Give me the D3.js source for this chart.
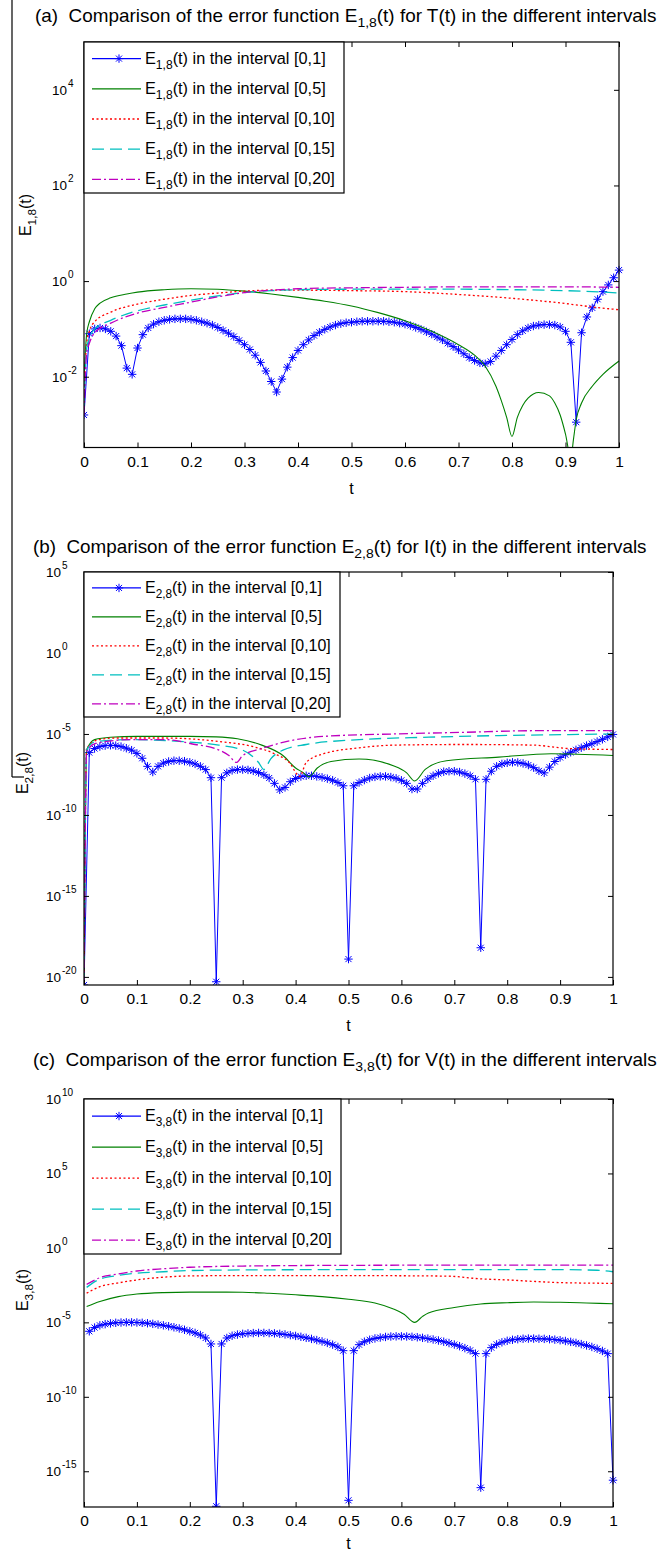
<!DOCTYPE html>
<html>
<head>
<meta charset="utf-8">
<title>Error function comparison</title>
<script src="https://d3js.org/d3.v7.min.js"></script>
<style>
  body { margin: 0; background: #fff; }
  text { font-family: "Liberation Sans", Arial, sans-serif; fill: #000; }
</style>
</head>
<body>
<div id="chart"></div>
<script>
// ---- data (log10 of the error) ----
var tGrid = [0,0.01,0.02,0.03,0.04,0.05,0.06,0.07,0.08,0.09,
  0.1,0.11,0.12,0.13,0.14,0.15,0.16,0.17,0.18,0.19,
  0.2,0.21,0.22,0.23,0.24,0.25,0.26,0.27,0.28,0.29,
  0.3,0.31,0.32,0.33,0.34,0.35,0.36,0.37,0.38,0.39,
  0.4,0.41,0.42,0.43,0.44,0.45,0.46,0.47,0.48,0.49,
  0.5,0.51,0.52,0.53,0.54,0.55,0.56,0.57,0.58,0.59,
  0.6,0.61,0.62,0.63,0.64,0.65,0.66,0.67,0.68,0.69,
  0.7,0.71,0.72,0.73,0.74,0.75,0.76,0.77,0.78,0.79,
  0.8,0.81,0.82,0.83,0.84,0.85,0.86,0.87,0.88,0.89,
  0.9,0.91,0.92,0.93,0.94,0.95,0.96,0.97,0.98,0.99,1];
var xTicks = [0,0.1,0.2,0.3,0.4,0.5,0.6,0.7,0.8,0.9,1];
var intervals = ['[0,1]','[0,5]','[0,10]','[0,15]','[0,20]'];

// panel (a) E_1,8 for T(t)
var aBlue = [-2.8,-1.1,-1.0,-0.98,-1.0,-1.05,-1.15,-1.35,-1.82,-1.95,
  -1.4,-1.12,-0.98,-0.9,-0.85,-0.82,-0.8,-0.79,-0.79,-0.79,
  -0.8,-0.82,-0.85,-0.88,-0.92,-0.97,-1.03,-1.09,-1.16,-1.24,
  -1.33,-1.43,-1.55,-1.7,-1.88,-2.1,-2.32,-2.05,-1.8,-1.6,
  -1.45,-1.33,-1.23,-1.14,-1.07,-1.01,-0.96,-0.92,-0.89,-0.87,
  -0.86,-0.85,-0.84,-0.84,-0.84,-0.84,-0.84,-0.85,-0.86,-0.88,
  -0.9,-0.93,-0.97,-1.01,-1.06,-1.11,-1.17,-1.23,-1.3,-1.37,
  -1.44,-1.52,-1.6,-1.66,-1.71,-1.73,-1.68,-1.57,-1.45,-1.33,
  -1.22,-1.12,-1.04,-0.98,-0.94,-0.92,-0.91,-0.91,-0.92,-0.96,
  -1.05,-1.28,-2.95,-1.08,-0.75,-0.56,-0.38,-0.22,-0.08,0.07,0.23];
var aGreen = [[0,-2.0],[0.005,-1.1],[0.01,-0.85],[0.02,-0.58],[0.03,-0.46],[0.05,-0.35],[0.08,-0.27],
  [0.1,-0.23],[0.15,-0.18],[0.2,-0.16],[0.25,-0.17],[0.3,-0.21],[0.35,-0.27],[0.4,-0.34],[0.45,-0.42],
  [0.5,-0.52],[0.55,-0.66],[0.6,-0.83],[0.65,-1.05],[0.7,-1.33],[0.73,-1.55],[0.75,-1.78],[0.77,-2.2],
  [0.78,-2.5],[0.79,-2.85],[0.8,-3.25],[0.81,-2.85],[0.82,-2.6],[0.83,-2.45],[0.85,-2.33],[0.87,-2.4],
  [0.88,-2.55],[0.89,-2.8],[0.9,-3.2],[0.91,-3.7],[0.915,-3.3],[0.92,-2.9],[0.93,-2.55],[0.95,-2.2],
  [0.97,-1.95],[1.0,-1.67]];
var aRed = [[0,-2.3],[0.005,-1.3],[0.01,-1.05],[0.02,-0.85],[0.05,-0.65],[0.1,-0.48],[0.15,-0.38],
  [0.2,-0.3],[0.25,-0.25],[0.3,-0.21],[0.35,-0.19],[0.4,-0.19],[0.5,-0.2],[0.6,-0.22],[0.7,-0.28],
  [0.8,-0.36],[0.9,-0.47],[0.95,-0.54],[1.0,-0.6]];
var aCyan = [[0,-2.6],[0.005,-1.4],[0.01,-1.2],[0.02,-1.0],[0.05,-0.82],[0.1,-0.62],[0.15,-0.5],
  [0.2,-0.4],[0.25,-0.31],[0.3,-0.24],[0.35,-0.2],[0.4,-0.18],[0.5,-0.17],[0.6,-0.17],[0.7,-0.17],
  [0.8,-0.18],[0.9,-0.2],[0.95,-0.22],[1.0,-0.25]];
var aMagenta = [[0,-2.8],[0.005,-1.5],[0.01,-1.3],[0.02,-1.08],[0.05,-0.88],[0.1,-0.67],[0.15,-0.55],
  [0.2,-0.44],[0.25,-0.33],[0.3,-0.24],[0.35,-0.19],[0.4,-0.16],[0.5,-0.14],[0.6,-0.13],[0.7,-0.12],
  [0.8,-0.12],[0.9,-0.12],[1.0,-0.13]];

// panel (b) E_2,8 for I(t)
var bBlue = [-20.5,-6.15,-5.9,-5.78,-5.72,-5.7,-5.72,-5.78,-5.88,-6.0,
  -6.2,-6.5,-7.0,-7.35,-7.0,-6.8,-6.7,-6.65,-6.65,-6.68,
  -6.75,-6.85,-7.0,-7.2,-7.7,-20.3,-7.7,-7.4,-7.25,-7.2,
  -7.2,-7.22,-7.28,-7.38,-7.52,-7.72,-8.05,-8.45,-8.3,-7.95,
  -7.75,-7.63,-7.58,-7.58,-7.62,-7.68,-7.76,-7.86,-8.0,-8.2,
  -18.9,-8.2,-8.0,-7.85,-7.72,-7.65,-7.62,-7.62,-7.66,-7.74,
  -7.86,-8.05,-8.4,-8.4,-8.05,-7.78,-7.58,-7.43,-7.33,-7.3,
  -7.3,-7.35,-7.45,-7.58,-7.8,-18.2,-7.8,-7.3,-7.0,-6.85,
  -6.78,-6.75,-6.76,-6.82,-6.92,-7.08,-7.28,-7.4,-7.05,-6.7,
  -6.45,-6.28,-6.13,-5.98,-5.85,-5.72,-5.6,-5.47,-5.33,-5.18,-5.03];
var bGreen = [[0,-20.5],[0.005,-6.0],[0.02,-5.35],[0.05,-5.2],[0.1,-5.15],[0.2,-5.15],[0.25,-5.18],
  [0.29,-5.3],[0.336,-5.69],[0.376,-6.33],[0.4,-7.1],[0.415,-7.4],[0.425,-7.65],[0.441,-7.1],
  [0.467,-6.7],[0.52,-6.55],[0.586,-6.98],[0.61,-7.4],[0.625,-7.9],[0.645,-7.19],[0.685,-6.65],
  [0.784,-6.43],[0.883,-6.22],[1.0,-6.33]];
var bRed = [[0,-20.5],[0.005,-5.9],[0.028,-5.35],[0.06,-5.25],[0.15,-5.25],[0.2,-5.3],[0.255,-5.47],
  [0.322,-5.8],[0.36,-6.22],[0.388,-6.76],[0.408,-7.62],[0.42,-6.76],[0.453,-6.22],[0.52,-5.86],
  [0.586,-5.69],[0.718,-5.65],[0.85,-5.69],[0.916,-5.9],[1.0,-5.96]];
var bCyan = [[0,-20.5],[0.005,-6.0],[0.022,-5.47],[0.088,-5.35],[0.188,-5.47],[0.255,-5.69],[0.3,-6.0],
  [0.33,-6.76],[0.34,-7.19],[0.353,-6.54],[0.376,-6.0],[0.42,-5.65],[0.52,-5.35],[0.652,-5.2],
  [0.784,-5.1],[0.916,-5.04],[1.0,-5.0]];
var bMagenta = [[0,-20.5],[0.005,-6.1],[0.022,-5.58],[0.088,-5.35],[0.155,-5.35],[0.21,-5.65],
  [0.248,-5.9],[0.274,-6.33],[0.288,-6.76],[0.3,-6.33],[0.336,-5.9],[0.388,-5.43],[0.453,-5.15],
  [0.586,-5.0],[0.718,-4.9],[0.85,-4.8],[1.0,-4.8]];

// panel (c) E_3,8 for V(t)  (blue starts at t = 0.01)
var cBlue = [-5.6,-5.35,-5.2,-5.12,-5.07,-5.03,-5.01,-5.0,-5.0,-5.01,
  -5.03,-5.06,-5.1,-5.15,-5.2,-5.26,-5.33,-5.41,-5.5,-5.6,
  -5.71,-5.85,-6.05,-6.45,-17.35,-6.45,-6.05,-5.9,-5.82,-5.77,
  -5.74,-5.72,-5.71,-5.71,-5.72,-5.74,-5.77,-5.81,-5.86,-5.91,
  -5.97,-6.04,-6.11,-6.19,-6.28,-6.38,-6.5,-6.65,-6.9,-16.95,
  -6.9,-6.5,-6.3,-6.17,-6.08,-6.02,-5.98,-5.95,-5.94,-5.94,
  -5.95,-5.97,-6.0,-6.04,-6.09,-6.15,-6.22,-6.3,-6.39,-6.49,
  -6.6,-6.73,-6.88,-7.1,-16.1,-7.1,-6.7,-6.48,-6.34,-6.24,
  -6.17,-6.13,-6.1,-6.09,-6.09,-6.1,-6.11,-6.13,-6.16,-6.2,
  -6.25,-6.31,-6.38,-6.46,-6.55,-6.65,-6.77,-6.92,-7.1,-15.6];
var cGreen = [[0.005,-3.94],[0.03,-3.6],[0.065,-3.27],[0.1,-3.1],[0.15,-3.0],[0.2,-2.97],[0.25,-2.97],
  [0.3,-2.98],[0.35,-3.05],[0.4,-3.15],[0.45,-3.27],[0.5,-3.45],[0.55,-3.7],[0.585,-4.1],[0.605,-4.45],
  [0.625,-5.0],[0.64,-4.6],[0.651,-4.37],[0.7,-4.0],[0.75,-3.77],[0.8,-3.68],[0.85,-3.63],[0.9,-3.65],
  [0.95,-3.7],[1.0,-3.75]];
var cRed = [[0.005,-3.04],[0.03,-2.6],[0.065,-2.35],[0.1,-2.15],[0.157,-1.95],[0.2,-1.88],[0.3,-1.86],
  [0.5,-1.86],[0.6,-1.87],[0.69,-1.9],[0.75,-2.08],[0.8,-2.15],[0.85,-2.25],[0.9,-2.33],[1.0,-2.38]];
var cCyan = [[0.005,-2.65],[0.03,-2.1],[0.065,-1.85],[0.1,-1.7],[0.15,-1.6],[0.2,-1.52],[0.3,-1.48],
  [0.5,-1.46],[0.7,-1.46],[0.9,-1.46],[0.97,-1.5],[1.0,-1.6]];
var cMagenta = [[0.005,-2.45],[0.03,-2.0],[0.065,-1.75],[0.1,-1.55],[0.15,-1.4],[0.2,-1.3],[0.3,-1.22],
  [0.5,-1.17],[0.7,-1.16],[1.0,-1.16]];

// ---- styles ----
var colors = ['#0000ff', '#008000', '#ff0000', '#00bfbf', '#bf00bf'];
var dashes = [null, null, '2,2.5', '12,6', '9,3,2,3'];
var widths = [1, 1.1, 1.3, 1.3, 1.3];

// ---- layout of the three panels ----
var panels = [
  { id: 'a', sub: '1,8', fn: 'T(t)', left: 84, right: 619, top: 42, bottom: 447.5, ymin: -3.48, ymax: 5,
    yTicks: [-2, 0, 2, 4], baseX: 67, titleY: 22, titleX: 35, titleW: 622, legR: 344, legB: 193,
    ylab: [25, 215], tY: 494,
    blue: tGrid.map(function (t, i) { return [t, aBlue[i]]; }), others: [aGreen, aRed, aCyan, aMagenta] },
  { id: 'b', sub: '2,8', fn: 'I(t)', left: 84, right: 613, top: 572, bottom: 985, ymin: -20.5, ymax: 5,
    yTicks: [-20, -15, -10, -5, 0, 5], baseX: 61, titleY: 553, titleX: 33, titleW: 614, legR: 340, legB: 717,
    ylab: [22, 773], tY: 1031,
    blue: tGrid.map(function (t, i) { return [t, bBlue[i]]; }), others: [bGreen, bRed, bCyan, bMagenta] },
  { id: 'c', sub: '3,8', fn: 'V(t)', left: 84, right: 613, top: 1099, bottom: 1507, ymin: -17.4, ymax: 10,
    yTicks: [-15, -10, -5, 0, 5, 10], baseX: 61, titleY: 1066, titleX: 33, titleW: 624, legR: 341, legB: 1254,
    ylab: [22, 1290], tY: 1549,
    blue: tGrid.slice(1).map(function (t, i) { return [t, cBlue[i]]; }), others: [cGreen, cRed, cCyan, cMagenta] }
];

var svg = d3.select('#chart').append('svg')
  .attr('width', 662).attr('height', 1556)
  .style('display', 'block');
svg.append('rect').attr('width', 662).attr('height', 1556).attr('fill', '#fff');

// stray border lines of the scanned figure
svg.append('line').attr('x1', 12).attr('x2', 12).attr('y1', 0).attr('y2', 777)
  .attr('stroke', '#000').attr('stroke-width', 1.2);
svg.append('line').attr('x1', 12).attr('x2', 24).attr('y1', 777).attr('y2', 777)
  .attr('stroke', '#000').attr('stroke-width', 1.2);

function starPath(r) {
  var d = r * 0.72;
  return 'M0,' + (-r) + 'L0,' + r + 'M' + (-r) + ',0L' + r + ',0' +
    'M' + (-d) + ',' + (-d) + 'L' + d + ',' + d + 'M' + (-d) + ',' + d + 'L' + d + ',' + (-d);
}

// text with E_{sub} pieces
function subText(sel, pre, sub, post, size) {
  sel.append('tspan').text(pre);
  sel.append('tspan').attr('dy', size * 0.3).attr('font-size', size * 0.74).text(sub);
  sel.append('tspan').attr('dy', -size * 0.3).text(post);
}

// squeeze a text horizontally about its x so that it is w wide
function fitWidth(sel, x0, w) {
  var cur = sel.node().getComputedTextLength();
  sel.attr('transform', 'translate(' + x0 + ',0) scale(' + (w / cur) + ',1) translate(' + (-x0) + ',0)');
}

panels.forEach(function (p) {
  var g = svg.append('g');
  var x = d3.scaleLinear().domain([0, 1]).range([p.left, p.right]);
  var y = d3.scaleLog().domain([Math.pow(10, p.ymin), Math.pow(10, p.ymax)]).range([p.bottom, p.top]);

  var clipId = 'clip-' + p.id;
  g.append('clipPath').attr('id', clipId).append('rect')
    .attr('x', p.left).attr('y', p.top - 4).attr('width', p.right - p.left + 6).attr('height', p.bottom - p.top + 4);

  // title
  var title = g.append('text').attr('x', p.titleX).attr('y', p.titleY)
    .attr('font-size', 17.5).style('white-space', 'pre');
  subText(title, '(' + p.id + ')  Comparison of the error function E', p.sub,
    '(t) for ' + p.fn + ' in the different intervals', 17.5);
  fitWidth(title, p.titleX, p.titleW);

  var line = d3.line()
    .x(function (d) { return x(d[0]); })
    .y(function (d) { return y(Math.pow(10, d[1])); });

  var plot = g.append('g').attr('clip-path', 'url(#' + clipId + ')');

  // blue with star markers
  plot.append('path').datum(p.blue)
    .attr('d', line.curve(d3.curveLinear))
    .attr('fill', 'none').attr('stroke', colors[0]).attr('stroke-width', widths[0]);
  plot.selectAll('.star').data(p.blue).enter().append('path')
    .attr('transform', function (d) { return 'translate(' + x(d[0]) + ',' + y(Math.pow(10, d[1])) + ')'; })
    .attr('d', starPath(4.2))
    .attr('fill', 'none').attr('stroke', colors[0]).attr('stroke-width', 1);

  p.others.forEach(function (s, k) {
    plot.append('path').datum(s)
      .attr('d', line.curve(d3.curveMonotoneX))
      .attr('fill', 'none').attr('stroke', colors[k + 1]).attr('stroke-width', widths[k + 1])
      .attr('stroke-dasharray', dashes[k + 1]);
  });

  // axes: ticks inside on all four sides
  var yVals = p.yTicks.map(function (e) { return Math.pow(10, e); });
  var bottomAxis = g.append('g').attr('transform', 'translate(0,' + p.bottom + ')')
    .call(d3.axisBottom(x).tickValues(xTicks).tickFormat(d3.format('~g')).tickSize(-5).tickPadding(8));
  g.append('g').attr('transform', 'translate(0,' + p.top + ')')
    .call(d3.axisTop(x).tickValues(xTicks).tickFormat('').tickSize(-5));
  g.append('g').attr('transform', 'translate(' + p.left + ',0)')
    .call(d3.axisLeft(y).tickValues(yVals).tickFormat('').tickSize(-5));
  g.append('g').attr('transform', 'translate(' + p.right + ',0)')
    .call(d3.axisRight(y).tickValues(yVals).tickFormat('').tickSize(-5));
  g.selectAll('.domain').remove();
  g.selectAll('.tick line').attr('stroke', '#000').attr('stroke-width', 1);
  bottomAxis.selectAll('text').attr('font-size', 15.5).attr('font-family', '"Liberation Sans", Arial, sans-serif');

  g.append('rect').attr('x', p.left).attr('y', p.top)
    .attr('width', p.right - p.left).attr('height', p.bottom - p.top)
    .attr('fill', 'none').attr('stroke', '#000').attr('stroke-width', 1.2);

  // log tick labels 10^k
  p.yTicks.forEach(function (e) {
    var yy = y(Math.pow(10, e));
    g.append('text').attr('x', p.baseX).attr('y', yy + 5)
      .attr('text-anchor', 'end').attr('font-size', 13.5).text('10');
    g.append('text').attr('x', p.baseX + 1).attr('y', yy - 3)
      .attr('font-size', 10).text(String(e));
  });

  // axis titles
  g.append('text').attr('x', (p.left + p.right) / 2).attr('y', p.tY)
    .attr('text-anchor', 'middle').attr('font-size', 16).text('t');
  var yl = g.append('text').attr('text-anchor', 'middle').attr('font-size', 16)
    .attr('transform', 'translate(' + (p.ylab[0] + 6) + ',' + p.ylab[1] + ') rotate(-90)');
  subText(yl, 'E', p.sub, '(t)', 16);

  // legend
  var leg = g.append('g');
  leg.append('rect').attr('x', p.left).attr('y', p.top)
    .attr('width', p.legR - p.left).attr('height', p.legB - p.top)
    .attr('fill', '#fff').attr('stroke', '#000').attr('stroke-width', 1.2);
  var step = (p.legB - p.top) / 5;
  var labels = [];
  intervals.forEach(function (iv, k) {
    var ly = p.top + step * (k + 0.55);
    leg.append('line').attr('x1', p.left + 8).attr('x2', p.left + 57)
      .attr('y1', ly).attr('y2', ly)
      .attr('stroke', colors[k]).attr('stroke-width', 1.3)
      .attr('stroke-dasharray', dashes[k]);
    if (k === 0) {
      leg.append('path').attr('transform', 'translate(' + (p.left + 35) + ',' + ly + ')')
        .attr('d', starPath(4.2)).attr('fill', 'none').attr('stroke', colors[0]);
    }
    var t = leg.append('text').attr('x', p.left + 61).attr('y', ly + 5).attr('font-size', 16.5);
    subText(t, 'E', p.sub, '(t) in the interval ' + iv, 16.5);
    labels.push(t);
  });
  // all legend labels squeezed by the same factor so the longest ends near the box edge
  var maxW = d3.max(labels, function (t) { return t.node().getComputedTextLength(); });
  var f = (p.legR - 9 - (p.left + 61)) / maxW;
  labels.forEach(function (t) {
    t.attr('transform', 'translate(' + (p.left + 61) + ',0) scale(' + f + ',1) translate(' + (-(p.left + 61)) + ',0)');
  });
});
</script>
</body>
</html>
